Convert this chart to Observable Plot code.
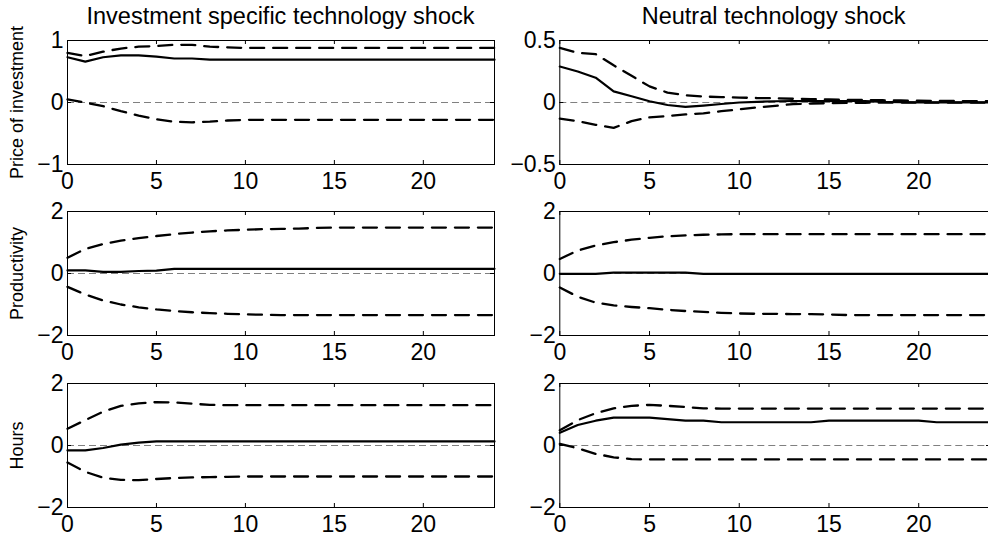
<!DOCTYPE html>
<html><head><meta charset="utf-8">
<script src="https://cdn.jsdelivr.net/npm/d3@7"></script>
<script src="https://cdn.jsdelivr.net/npm/@observablehq/plot@0.6"></script>
<style>
body{margin:0;background:#fff;}
#fig{position:relative;width:988px;height:540px;overflow:hidden;background:#fff;font-family:"Liberation Sans",Arial,Helvetica,sans-serif;}
.panel{position:absolute;}
.coltitle{position:absolute;font-size:23.5px;line-height:1;color:#000;white-space:nowrap;transform:translateX(-50%);}
</style></head><body><div id="fig"></div>
<script>
// Horizons (quarters)
const quarters = [0,1,2,3,4,5,6,7,8,9,10,11,12,13,14,15,16,17,18,19,20,21,22,23,24];
const xTickValues = [0,5,10,15,20];

const columnTitles = ["Investment specific technology shock", "Neutral technology shock"];
const rowLabels = ["Price of investment", "Productivity", "Hours"];

// Row 1: price of investment
const priceIST_mid = [0.73,0.66,0.73,0.76,0.76,0.74,0.71,0.71,0.69,0.69,0.69,0.69,0.69,0.69,0.69,0.69,0.69,0.69,0.69,0.69,0.69,0.69,0.69,0.69,0.69];
const priceIST_hi  = [0.80,0.75,0.82,0.87,0.90,0.91,0.93,0.93,0.90,0.89,0.88,0.88,0.88,0.88,0.88,0.88,0.88,0.88,0.88,0.88,0.88,0.88,0.88,0.88,0.88];
const priceIST_lo  = [0.05,0.00,-0.06,-0.14,-0.21,-0.27,-0.31,-0.32,-0.31,-0.29,-0.28,-0.28,-0.28,-0.28,-0.28,-0.28,-0.28,-0.28,-0.28,-0.28,-0.28,-0.28,-0.28,-0.28,-0.28];
const priceNT_mid = [0.29,0.25,0.20,0.09,0.05,0.01,-0.02,-0.035,-0.025,-0.012,0,0.005,0.01,0.012,0.012,0.012,0.012,0.012,0.005,0.003,0,0,0,0,0];
const priceNT_hi  = [0.44,0.40,0.39,0.30,0.215,0.13,0.08,0.058,0.048,0.043,0.04,0.036,0.034,0.03,0.028,0.025,0.022,0.02,0.018,0.016,0.014,0.013,0.012,0.011,0.01];
const priceNT_lo  = [-0.13,-0.15,-0.18,-0.205,-0.15,-0.12,-0.11,-0.096,-0.087,-0.07,-0.055,-0.04,-0.027,-0.013,-0.008,-0.005,-0.003,-0.002,-0.001,0,0,0,0,0,0];

// Row 2: productivity
const prodIST_mid = [0.10,0.10,0.05,0.05,0.08,0.09,0.15,0.15,0.15,0.15,0.15,0.15,0.15,0.15,0.15,0.15,0.15,0.15,0.15,0.15,0.15,0.15,0.15,0.15,0.15];
const prodIST_hi  = [0.51,0.79,0.95,1.06,1.14,1.21,1.27,1.32,1.36,1.39,1.41,1.43,1.44,1.45,1.47,1.48,1.48,1.48,1.48,1.48,1.48,1.48,1.48,1.48,1.48];
const prodIST_lo  = [-0.43,-0.68,-0.87,-1.00,-1.09,-1.16,-1.21,-1.25,-1.28,-1.30,-1.32,-1.33,-1.34,-1.34,-1.34,-1.34,-1.34,-1.34,-1.34,-1.34,-1.34,-1.34,-1.34,-1.34,-1.34];
const prodNT_mid = [-0.01,-0.01,-0.01,0.03,0.03,0.03,0.03,0.03,-0.01,-0.01,-0.01,-0.01,-0.01,-0.01,-0.01,-0.01,-0.01,-0.01,-0.01,-0.01,-0.01,-0.01,-0.01,-0.01,-0.01];
const prodNT_hi  = [0.47,0.74,0.90,1.01,1.09,1.15,1.20,1.23,1.25,1.26,1.27,1.27,1.27,1.27,1.27,1.27,1.27,1.27,1.27,1.27,1.27,1.27,1.27,1.27,1.27];
const prodNT_lo  = [-0.45,-0.75,-0.94,-1.03,-1.08,-1.12,-1.17,-1.21,-1.24,-1.27,-1.29,-1.30,-1.30,-1.31,-1.31,-1.32,-1.34,-1.34,-1.34,-1.34,-1.34,-1.34,-1.34,-1.34,-1.34];

// Row 3: hours
const hoursIST_mid = [-0.16,-0.16,-0.08,0.03,0.09,0.13,0.13,0.13,0.13,0.13,0.13,0.13,0.13,0.13,0.13,0.13,0.13,0.13,0.13,0.13,0.13,0.13,0.13,0.13,0.13];
const hoursIST_hi  = [0.54,0.82,1.09,1.28,1.36,1.40,1.39,1.35,1.31,1.30,1.30,1.30,1.30,1.30,1.30,1.30,1.30,1.30,1.30,1.30,1.30,1.30,1.30,1.30,1.30];
const hoursIST_lo  = [-0.55,-0.85,-1.04,-1.11,-1.12,-1.08,-1.05,-1.03,-1.02,-1.01,-1.00,-1.00,-1.00,-1.00,-1.00,-1.00,-1.00,-1.00,-1.00,-1.00,-1.00,-1.00,-1.00,-1.00,-1.00];
const hoursNT_mid = [0.41,0.66,0.80,0.90,0.90,0.90,0.85,0.80,0.80,0.75,0.75,0.75,0.75,0.75,0.75,0.80,0.80,0.80,0.80,0.80,0.80,0.75,0.75,0.75,0.75];
const hoursNT_hi  = [0.49,0.82,1.04,1.20,1.28,1.31,1.28,1.24,1.20,1.19,1.19,1.19,1.19,1.19,1.19,1.19,1.19,1.19,1.19,1.19,1.19,1.19,1.19,1.19,1.19];
const hoursNT_lo  = [0.05,-0.09,-0.27,-0.38,-0.44,-0.45,-0.45,-0.45,-0.45,-0.45,-0.45,-0.45,-0.45,-0.45,-0.45,-0.45,-0.45,-0.45,-0.45,-0.45,-0.45,-0.45,-0.45,-0.45,-0.45];

const rowYDomains = [[[-1,1],[-0.5,0.5]], [[-2,2],[-2,2]], [[-2,2],[-2,2]]];
const rowYTicks = [[[-1,0,1],[-0.5,0,0.5]], [[-2,0,2],[-2,0,2]], [[-2,0,2],[-2,0,2]]];
const series = [
  [[priceIST_lo,priceIST_mid,priceIST_hi],[priceNT_lo,priceNT_mid,priceNT_hi]],
  [[prodIST_lo,prodIST_mid,prodIST_hi],[prodNT_lo,prodNT_mid,prodNT_hi]],
  [[hoursIST_lo,hoursIST_mid,hoursIST_hi],[hoursNT_lo,hoursNT_mid,hoursNT_hi]]
];

const FONT = '"Liberation Sans",Arial,Helvetica,sans-serif';
const frameTops = [40, 211, 383];
const frameH = 124;
const colLeft = [{svgLeft:0, marginLeft:67, width:500, marginRight:6}, {svgLeft:494, marginLeft:65.3, width:496, marginRight:0}];
const MT = 10, MB = 36;
const fmt = d => (d < 0 ? "\u2212" : "") + String(Math.abs(d));

const fig = document.getElementById("fig");

columnTitles.forEach((t, c) => {
  const L = colLeft[c];
  const fl = L.svgLeft + L.marginLeft;
  const fr = c === 1 ? 988 : L.svgLeft + L.width - L.marginRight;
  const d = document.createElement("div");
  d.className = "coltitle";
  d.textContent = t;
  d.style.left = ((fl + fr) / 2) + "px";
  d.style.top = "5px";
  fig.appendChild(d);
});

for (let r = 0; r < 3; r++) {
  for (let c = 0; c < 2; c++) {
    const L = colLeft[c];
    const [lo, mid, hi] = series[r][c];
    const data = quarters.map((q, i) => ({q, lo: lo[i], mid: mid[i], hi: hi[i]}));
    const H = MT + frameH + MB;
    const innerW = L.width - L.marginLeft - L.marginRight;
    const yTicks = rowYTicks[r][c];
    const marks = [
      Plot.ruleY([0], {stroke: "#808080", strokeWidth: 1, strokeDasharray: "7,4"}),
      Plot.line(data, {x: "q", y: "hi", stroke: "black", strokeWidth: 2.3, strokeDasharray: "14,9"}),
      Plot.line(data, {x: "q", y: "lo", stroke: "black", strokeWidth: 2.3, strokeDasharray: "14,9"}),
      Plot.line(data, {x: "q", y: "mid", stroke: "black", strokeWidth: 2.2}),
      Plot.tickX(xTickValues, {x: d => d, stroke: "black", insetTop: frameH - 4}),
      Plot.tickX(xTickValues, {x: d => d, stroke: "black", insetBottom: frameH - 4}),
      Plot.tickY(yTicks, {y: d => d, stroke: "black", insetRight: innerW - 4}),
      Plot.tickY(yTicks, {y: d => d, stroke: "black", insetLeft: innerW - 4}),
      Plot.frame({stroke: "black", strokeWidth: 1}),
      Plot.axisX({ticks: xTickValues, tickSize: 0, tickPadding: 8, fontSize: 23, fill: "black", label: null, tickFormat: fmt}),
      Plot.axisY({ticks: yTicks, tickSize: 0, tickPadding: 4, fontSize: 23, fill: "black", label: null, tickFormat: fmt})
    ];
    if (c === 0) {
      marks.push(Plot.axisY({ticks: [], tickSize: 0, label: rowLabels[r], labelAnchor: "center", labelArrow: false, labelOffset: 57, fontSize: 18, fill: "black"}));
    }
    const chart = Plot.plot({
      width: L.width, height: H,
      marginLeft: L.marginLeft, marginRight: L.marginRight, marginTop: MT, marginBottom: MB,
      x: {domain: [0, 24]},
      y: {domain: rowYDomains[r][c]},
      style: {fontFamily: FONT, fontSize: "23px", color: "black", background: "transparent", overflow: "visible"},
      marks
    });
    chart.classList.add("panel");
    chart.style.left = L.svgLeft + "px";
    chart.style.top = (frameTops[r] - MT) + "px";
    chart.style.maxWidth = "none";
    fig.appendChild(chart);
  }
}
</script></body></html>
